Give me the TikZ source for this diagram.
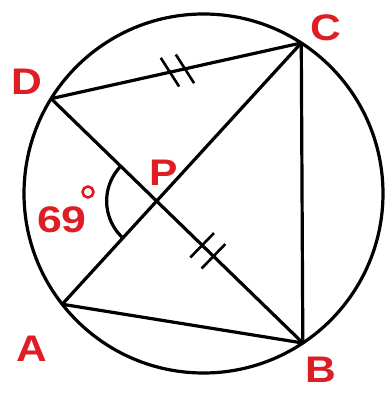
\documentclass[tikz,border=0pt]{standalone}
\usepackage{fontspec}
\setmainfont{Liberation Sans}
\usetikzlibrary{calc}
\definecolor{lblred}{RGB}{222,30,36}
\tikzset{
  geo/.style={line width=3.2pt, line cap=round, line join=round, black},
  lbl/.style={text=lblred, font=\bfseries\fontsize{37}{37}\selectfont, inner sep=0pt, xscale=1.15},
  tickmark/.style={line width=2.6pt, black}
}
\begin{document}
\begin{tikzpicture}[x=1pt,y=1pt]
\useasboundingbox (0,0) rectangle (390,394);
\coordinate (O) at (203.5,200.5);
\coordinate (C) at ($(O)+(57:179.5)$);
\coordinate (D) at ($(O)+(148.1:179.5)$);
\coordinate (A) at ($(O)+(218.1:179.5)$);
\coordinate (B) at ($(O)+(303.6:179.5)$);
\coordinate (P) at (intersection of A--C and D--B);
\draw[geo] (O) circle[radius=179.5];
\draw[geo] (D) -- (C);
\draw[geo] (D) -- (B);
\draw[geo] (A) -- (C);
\draw[geo] (A) -- (B);
\draw[geo] (C) -- (B);
% angle arc
\draw[geo] let \p1=($(D)-(P)$), \p2=($(A)-(P)$),
  \n1={atan2(\y1,\x1)}, \n2={atan2(\y2,\x2)+360} in
  ($(P)+(\n1:50)$) arc[start angle=\n1, end angle=\n2, radius=50];
% tick marks on DC
\foreach \t in {0.475,0.535}{
  \coordinate (m) at ($(D)!\t!(C)$);
  \draw[tickmark] ($(m)!17pt!110:(C)$) -- ($(m)!17pt!-70:(C)$);
}
% tick marks on DB
\foreach \t in {0.60,0.645}{
  \coordinate (m) at ($(D)!\t!(B)$);
  \draw[tickmark] ($(m)!17pt!90:(B)$) -- ($(m)!17pt!-90:(B)$);
}
% labels
\node[lbl] (lC) at (326,366) {C};
\node[lbl] (lD) at (27,312) {D};
\node[lbl] (lA) at (32,45) {A};
\node[lbl] (lB) at (321,24) {B};
\node[lbl] (lP) at (164,221) {P};
\node[lbl, xscale=1.05] (l69) at (62,174) {69};
\draw[lblred, line width=2.6pt] (88,202) circle[radius=5.5];
\end{tikzpicture}
\end{document}
